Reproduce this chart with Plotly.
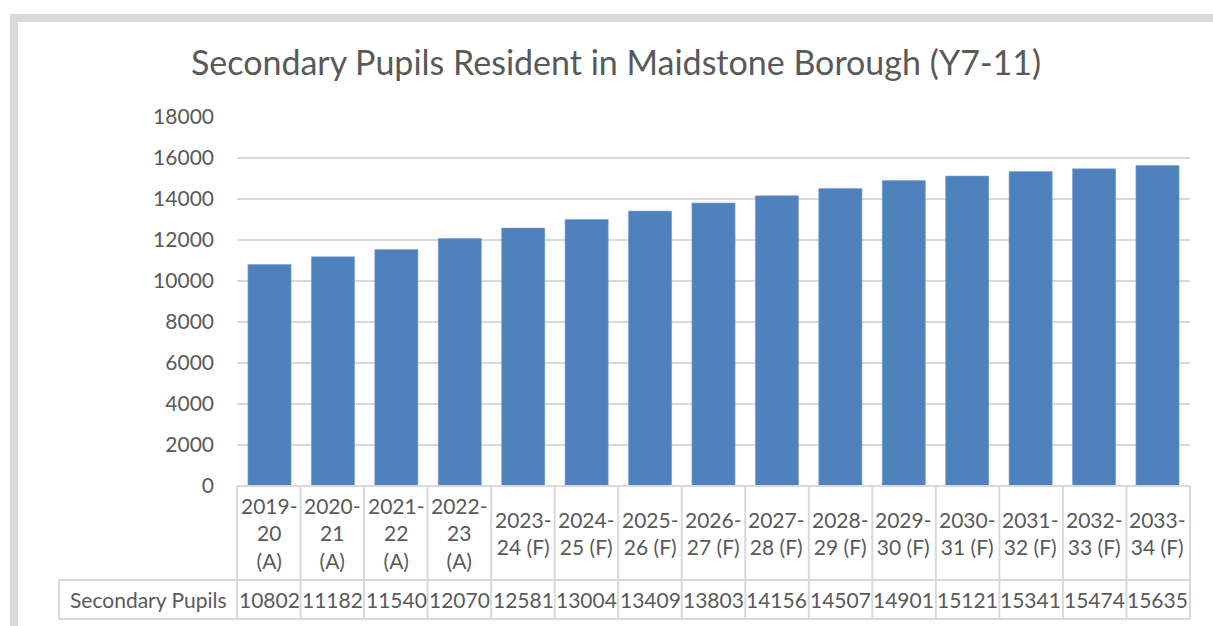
import plotly.graph_objects as go

categories = ["2019-20 (A)", "2020-21 (A)", "2021-22 (A)", "2022-23 (A)",
              "2023-24 (F)", "2024-25 (F)", "2025-26 (F)", "2026-27 (F)",
              "2027-28 (F)", "2028-29 (F)", "2029-30 (F)", "2030-31 (F)",
              "2031-32 (F)", "2032-33 (F)", "2033-34 (F)"]
category_labels = ["2019-<br>20<br>(A)", "2020-<br>21<br>(A)", "2021-<br>22<br>(A)", "2022-<br>23<br>(A)",
                   "2023-<br>24 (F)", "2024-<br>25 (F)", "2025-<br>26 (F)", "2026-<br>27 (F)",
                   "2027-<br>28 (F)", "2028-<br>29 (F)", "2029-<br>30 (F)", "2030-<br>31 (F)",
                   "2031-<br>32 (F)", "2032-<br>33 (F)", "2033-<br>34 (F)"]
series_name = "Secondary Pupils"
pupils = [10802, 11182, 11540, 12070, 12581, 13004, 13409, 13803,
          14156, 14507, 14901, 15121, 15341, 15474, 15635]
y_ticks = [0, 2000, 4000, 6000, 8000, 10000, 12000, 14000, 16000, 18000]
y_tick_labels = [str(v) for v in y_ticks]
title_text = "Secondary Pupils Resident in Maidstone Borough (Y7-11)"

W, H = 1213, 626
L, R, T, B = 237, 23, 117, 140
PW, PH = W - L - R, H - T - B
FONT = "Lato, 'Noto Sans', sans-serif"
TXT = "#595959"
GRID = "#d9d9d9"
BAR = "#4f81bd"


def px_to_paper_x(px):
    return (px - L) / PW


def px_to_paper_y(py):
    return (H - B - py) / PH


fig = go.Figure()
fig.add_trace(go.Bar(
    x=categories, y=pupils, name=series_name,
    marker=dict(color=BAR, line=dict(color="#7a9fd0", width=0.6)),
    hoverinfo="x+y",
))

n = len(categories)
row1_bottom = 580
row2_bottom = 619
left_cell = 59

shapes = []
# outer frame (gray border on top and left)
shapes.append(dict(type="rect", xref="paper", yref="paper",
                   x0=px_to_paper_x(10), x1=px_to_paper_x(1230),
                   y0=px_to_paper_y(22), y1=px_to_paper_y(14),
                   fillcolor=GRID, line=dict(width=0), layer="below"))
shapes.append(dict(type="rect", xref="paper", yref="paper",
                   x0=px_to_paper_x(10), x1=px_to_paper_x(18),
                   y0=px_to_paper_y(640), y1=px_to_paper_y(14),
                   fillcolor=GRID, line=dict(width=0), layer="below"))
# table horizontal lines
for py, x0 in [(486, L), (row1_bottom, left_cell), (row2_bottom, left_cell)]:
    shapes.append(dict(type="line", xref="paper", yref="paper",
                       x0=px_to_paper_x(x0), x1=1, y0=px_to_paper_y(py), y1=px_to_paper_y(py),
                       line=dict(color=GRID, width=2)))
# table vertical lines
for i in range(n + 1):
    xp = i / n
    shapes.append(dict(type="line", xref="paper", yref="paper",
                       x0=xp, x1=xp, y0=px_to_paper_y(486), y1=px_to_paper_y(row2_bottom),
                       line=dict(color=GRID, width=2)))
shapes.append(dict(type="line", xref="paper", yref="paper",
                   x0=px_to_paper_x(left_cell), x1=px_to_paper_x(left_cell),
                   y0=px_to_paper_y(row1_bottom), y1=px_to_paper_y(row2_bottom),
                   line=dict(color=GRID, width=2)))

annotations = []
for cat, lab, val in zip(categories, category_labels, pupils):
    annotations.append(dict(x=cat, xref="x", yref="paper", xanchor="center",
                            y=px_to_paper_y((486 + row1_bottom) / 2), yanchor="middle",
                            text=lab, showarrow=False, align="center",
                            font=dict(family=FONT, size=21, color=TXT)))
    annotations.append(dict(x=cat, xref="x", yref="paper", xanchor="center",
                            y=px_to_paper_y((row1_bottom + row2_bottom) / 2), yanchor="middle",
                            text=str(val), showarrow=False,
                            font=dict(family=FONT, size=21, color=TXT)))
annotations.append(dict(x=px_to_paper_x((left_cell + L) / 2), xref="paper", yref="paper",
                        xanchor="center",
                        y=px_to_paper_y((row1_bottom + row2_bottom) / 2), yanchor="middle",
                        text=series_name, showarrow=False,
                        font=dict(family=FONT, size=21, color=TXT)))

fig.update_layout(
    width=W, height=H,
    margin=dict(l=L, r=R, t=T, b=B, pad=0),
    paper_bgcolor="white", plot_bgcolor="white",
    showlegend=False,
    bargap=0.32,
    title=dict(text=title_text, xref="container", x=616 / W, xanchor="center",
               yref="container", y=1 - 63 / H, yanchor="middle",
               font=dict(family=FONT, size=34, color=TXT)),
    xaxis=dict(type="category", showticklabels=False, showgrid=False,
               showline=False, zeroline=False, ticks=""),
    yaxis=dict(range=[0, 18000], tickvals=y_ticks, ticktext=y_tick_labels,
               showgrid=True, gridcolor=GRID,
               gridwidth=2, zeroline=False, showline=False, ticks="",
               ticklabelstandoff=22,
               tickfont=dict(family=FONT, size=21, color=TXT)),
    shapes=shapes,
    annotations=annotations,
    font=dict(family=FONT, color=TXT),
)

fig.write_html("out.html", config={"displayModeBar": False},
               post_script="document.body.style.margin='0';")
